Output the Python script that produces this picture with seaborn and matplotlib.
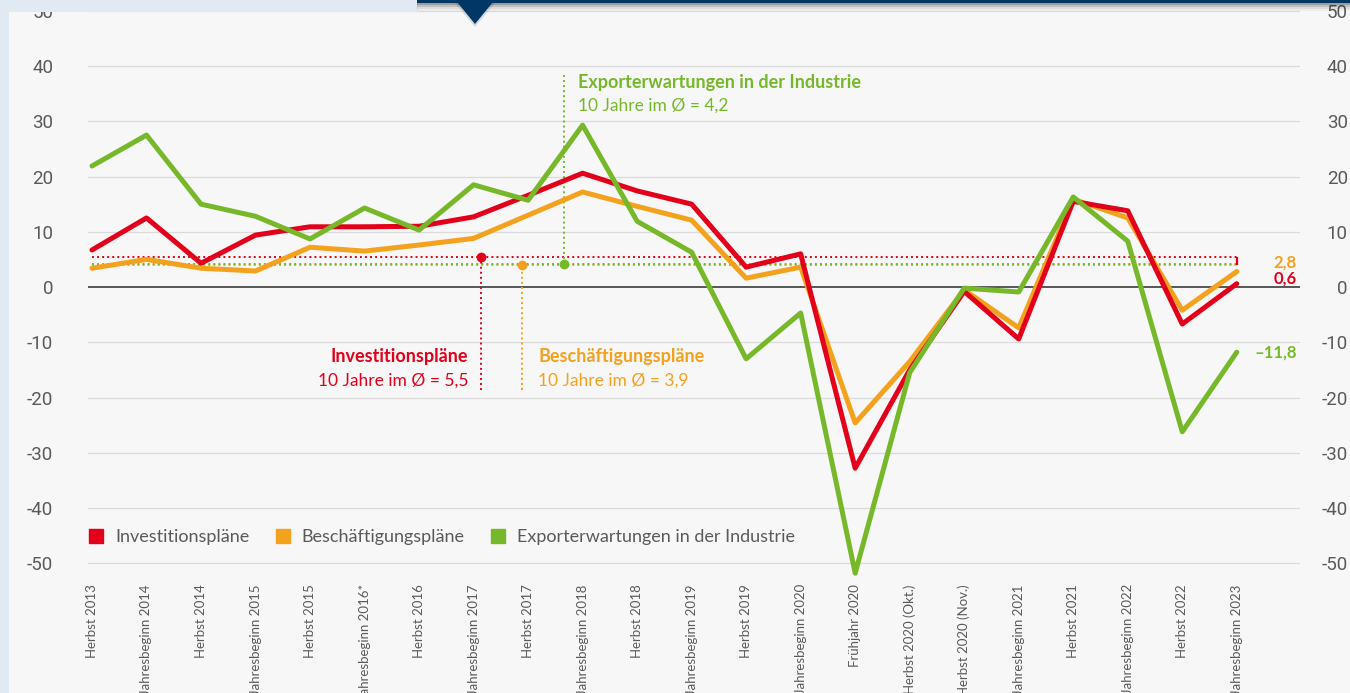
import pandas as pd
import numpy as np
import matplotlib
matplotlib.use('Agg')
import matplotlib.pyplot as plt
import seaborn as sns
from matplotlib.lines import Line2D
from matplotlib.patches import Rectangle, Polygon

# -------------------------------
# DATA
# -------------------------------
kategorien = ['Herbst 2013', 'Jahresbeginn 2014', 'Herbst 2014', 'Jahresbeginn 2015',
              'Herbst 2015', 'Jahresbeginn 2016*', 'Herbst 2016', 'Jahresbeginn 2017',
              'Herbst 2017', 'Jahresbeginn 2018', 'Herbst 2018', 'Jahresbeginn 2019',
              'Herbst 2019', 'Jahresbeginn 2020', 'Frühjahr 2020', 'Herbst 2020 (Okt.)',
              'Herbst 2020 (Nov.)', 'Jahresbeginn 2021', 'Herbst 2021', 'Jahresbeginn 2022',
              'Herbst 2022', 'Jahresbeginn 2023']

investition = [6.7, 12.5, 4.3, 9.4, 10.9, 10.9, 11.0, 12.7, 16.6, 20.6, 17.4, 15.0,
               3.6, 6.0, -32.8, -15.0, -0.8, -9.4, 15.5, 13.8, -6.7, 0.6]
beschaeftigung = [3.4, 5.0, 3.4, 2.9, 7.2, 6.5, 7.6, 8.8, 13.0, 17.2, 14.6, 12.1,
                  1.6, 3.6, -24.6, -13.5, -0.5, -7.4, 15.9, 12.5, -4.2, 2.8]
export = [21.9, 27.5, 15.0, 12.8, 8.7, 14.3, 10.3, 18.5, 15.7, 29.3, 11.9, 6.3,
          -13.0, -4.7, -51.8, -15.5, -0.2, -0.9, 16.3, 8.3, -26.2, -11.8]

reihen = ['Beschäftigungspläne', 'Investitionspläne', 'Exporterwartungen in der Industrie']
legend_reihen = ['Investitionspläne', 'Beschäftigungspläne', 'Exporterwartungen in der Industrie']
schnitt = {'Investitionspläne': 5.5, 'Beschäftigungspläne': 3.9,
           'Exporterwartungen in der Industrie': 4.2}

y_ticks = [-50, -40, -30, -20, -10, 0, 10, 20, 30, 40, 50]

ROT = '#e2001a'
ORANGE = '#f4a11d'
GRUEN = '#76b82a'
farben = {'Investitionspläne': ROT, 'Beschäftigungspläne': ORANGE,
          'Exporterwartungen in der Industrie': GRUEN}
GRAU = '#5a5a5a'
BG = '#f7f7f7'

df = pd.DataFrame({
    'pos': list(range(len(kategorien))) * 3,
    'wert': beschaeftigung + investition + export,
    'reihe': [reihen[0]] * 22 + [reihen[1]] * 22 + [reihen[2]] * 22,
})

# -------------------------------
# PLOT
# -------------------------------
sns.set_style('white')
plt.rcParams['font.family'] = ['Lato', 'DejaVu Sans']

fig = plt.figure(figsize=(13.5, 6.93), dpi=100)
fig.patch.set_facecolor(BG)
W, H = 1350, 693
ax = fig.add_axes([88 / W, (H - 580) / H, (1300 - 88) / W, 580 / H])
ax.set_facecolor(BG)

ax.set_xlim(-0.073, 22.16)
ax.set_ylim(-53.03, 51.95)

for y in y_ticks:
    if y != 0:
        ax.axhline(y, color='#dadada', lw=0.9, zorder=0)
ax.axhline(0, color='#4a4a4a', lw=1.3, zorder=1)

# 10-year averages
for r in legend_reihen:
    ax.hlines(schnitt[r], 0, 21, colors=farben[r], linestyles=(0, (1, 1.6)), lw=1.4, zorder=1)
ax.vlines(21, 3.9, 5.5, colors=ROT, lw=1.6, zorder=1)

sns.lineplot(data=df, x='pos', y='wert', hue='reihe', hue_order=reihen,
             palette=farben, linewidth=3.6, estimator=None, sort=False,
             legend=False, ax=ax, zorder=3)

# annotation markers
ax.plot([7.13], [5.5], 'o', color=ROT, ms=6, zorder=4)
ax.vlines(7.13, -18.6, 5.5, colors=ROT, linestyles=(0, (1, 1.6)), lw=1.4)
ax.plot([7.89], [3.9], 'o', color=ORANGE, ms=6, zorder=4)
ax.vlines(7.89, -18.6, 3.9, colors=ORANGE, linestyles=(0, (1, 1.6)), lw=1.4)
ax.plot([8.66], [4.2], 'o', color=GRUEN, ms=6, zorder=4)
ax.vlines(8.66, 4.2, 38.4, colors=GRUEN, linestyles=(0, (1, 1.6)), lw=1.4)

ax.text(6.9, -12.5, 'Investitionspläne', color=ROT, fontsize=13, fontweight='bold',
        ha='right', va='center')
ax.text(6.9, -17.0, '10 Jahre im Ø = 5,5', color=ROT, fontsize=12.5, ha='right', va='center')
ax.text(8.19, -12.5, 'Beschäftigungspläne', color=ORANGE, fontsize=13, fontweight='bold',
        ha='left', va='center')
ax.text(8.19, -17.0, '10 Jahre im Ø = 3,9', color=ORANGE, fontsize=12.5, ha='left', va='center')
ax.text(8.91, 37.1, 'Exporterwartungen in der Industrie', color=GRUEN, fontsize=13,
        fontweight='bold', ha='left', va='center')
ax.text(8.91, 32.8, '10 Jahre im Ø = 4,2', color=GRUEN, fontsize=12.5, ha='left', va='center')

# end values
ax.text(22.1, beschaeftigung[-1] + 1.6, '2,8', color=ORANGE, fontsize=12,
        fontweight='bold', ha='right', va='center')
ax.text(22.1, investition[-1] + 0.9, '0,6', color=ROT, fontsize=12,
        fontweight='bold', ha='right', va='center')
ax.text(22.1, export[-1], '–11,8', color=GRUEN, fontsize=12,
        fontweight='bold', ha='right', va='center')

# axes
ax.set_xticks(range(len(kategorien)))
ax.set_xticklabels(kategorien, rotation=90, fontsize=9.5, color=GRAU)
ax.set_yticks(y_ticks)
ax.set_yticklabels([str(v) for v in y_ticks], fontsize=13.5, color=GRAU,
                   family=['Roboto', 'DejaVu Sans'])
ax.tick_params(axis='x', length=0, pad=3)
ax.tick_params(axis='y', length=0, pad=25)
ax.set_xlabel('')
ax.set_ylabel('')
sns.despine(ax=ax, left=True, bottom=True)

ax2 = ax.twinx()
ax2.set_ylim(ax.get_ylim())
ax2.set_yticks(y_ticks)
ax2.set_yticklabels([str(v) for v in y_ticks], fontsize=13.5, color=GRAU,
                    family=['Roboto', 'DejaVu Sans'])
ax2.tick_params(axis='y', length=0, pad=34.5)
for t in ax2.get_yticklabels():
    t.set_horizontalalignment('right')
for s in ax2.spines.values():
    s.set_visible(False)

# legend
handles = [Line2D([], [], marker='s', ls='none', color=farben[r], ms=10) for r in legend_reihen]
leg = ax.legend(handles, legend_reihen, loc='center left', bbox_to_anchor=(0.0, 0.074),
                ncol=3, frameon=False, fontsize=13, handlelength=0.9, handletextpad=0.6,
                columnspacing=1.4, borderaxespad=0, borderpad=0)
for t in leg.get_texts():
    t.set_color(GRAU)

# page frame (light blue strip, navy bar)
HELLBLAU = '#e1e9f3'
NAVY = '#003767'
fig.add_artist(Rectangle((0, 0), 9 / W, 1, transform=fig.transFigure,
                         color=HELLBLAU, zorder=10, lw=0))
fig.add_artist(Rectangle((0, 1 - 12 / H), 418 / W, 12 / H, transform=fig.transFigure,
                         color=HELLBLAU, zorder=10, lw=0))
for i, a in enumerate([0.18, 0.12, 0.07, 0.04]):
    fig.add_artist(Rectangle((417 / W, 1 - (5 + 2 * i) / H), 1, (5 + 2 * i) / H,
                             transform=fig.transFigure, color='black', alpha=a,
                             zorder=10, lw=0))
fig.add_artist(Polygon([(455 / W, 1 - 3 / H), (495 / W, 1 - 3 / H), (475 / W, 1 - 27 / H)],
                       closed=True, transform=fig.transFigure, color='black', alpha=0.12,
                       zorder=10, lw=0))
fig.add_artist(Rectangle((417 / W, 1 - 3 / H), 1, 3 / H, transform=fig.transFigure,
                         color=NAVY, zorder=11, lw=0))
fig.add_artist(Polygon([(457 / W, 1 - 2 / H), (493 / W, 1 - 2 / H), (475 / W, 1 - 24 / H)],
                       closed=True, transform=fig.transFigure, color=NAVY, zorder=11, lw=0))

fig.savefig('out.png', dpi=100, facecolor=BG)
